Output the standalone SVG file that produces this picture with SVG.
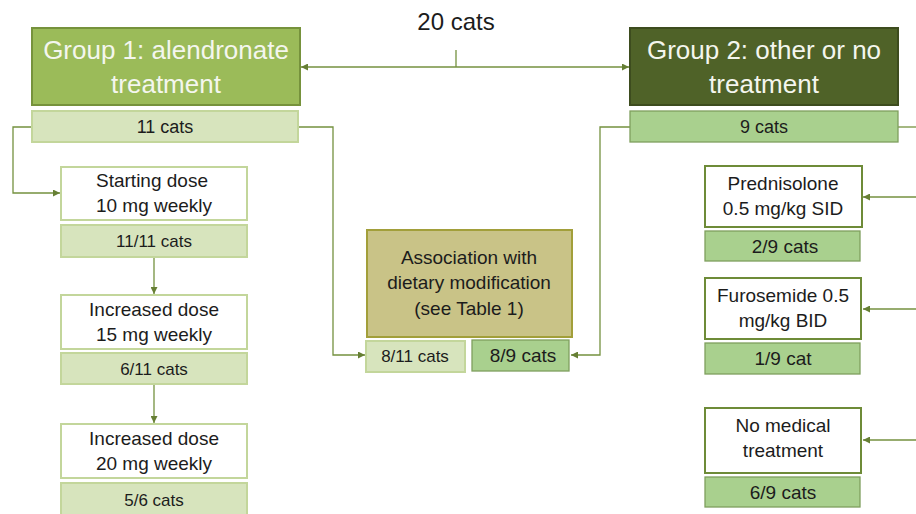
<svg xmlns="http://www.w3.org/2000/svg" width="916" height="514" viewBox="0 0 916 514">
<defs>
<marker id="arr" viewBox="0 0 10 10" refX="10" refY="5" markerWidth="7" markerHeight="7" markerUnits="userSpaceOnUse" orient="auto">
<path d="M0,0 L10,5 L0,10 z" fill="#667f34"/>
</marker>
<style>
text{font-family:"Liberation Sans",Arial,sans-serif;text-anchor:middle;fill:#1c1c1c}
.hdr{font-size:26px;fill:#f4f6ee}
.big{font-size:19px}
.mid{font-size:18px}
.sm{font-size:17px}
.c{fill:none;stroke:#74913f;stroke-width:1.3}
.c1{fill:#9bbb59;stroke:#76923c;stroke-width:2}
.c2{fill:#4f6228;stroke:#3d4c1e;stroke-width:2}
.lbar{fill:#d7e4bd;stroke:#c3d69b;stroke-width:2}
.dbar{fill:#a9d08e;stroke:#7f9f5e;stroke-width:1.3}
.lbox{fill:#fff;stroke:#c3d69b;stroke-width:2}
.rbox{fill:#fff;stroke:#6e8b38;stroke-width:2}
.assoc{fill:#c9c387;stroke:#a29f3a;stroke-width:2}
</style>
</defs>
<rect width="916" height="514" fill="#fff"/>
<g id="title"><text x="456" y="30" style="font-size:24px">20 cats</text></g>

<g id="connectors">
<path class="c" d="M456,50 V67"/>
<path class="c" d="M456,67 H301" marker-end="url(#arr)"/>
<path class="c" d="M456,67 H629" marker-end="url(#arr)"/>
<path class="c" d="M32,127 H13 V193 H60" marker-end="url(#arr)"/>
<path class="c" d="M298,127 H333 V355 H365" marker-end="url(#arr)"/>
<path class="c" d="M630,127 H600 V355 H571" marker-end="url(#arr)"/>
<path class="c" d="M898,127 H916"/>
<path class="c" d="M154,257 V294" marker-end="url(#arr)"/>
<path class="c" d="M154,385 V423" marker-end="url(#arr)"/>
<path class="c" d="M916,197 H863" marker-end="url(#arr)"/>
<path class="c" d="M916,309 H863" marker-end="url(#arr)"/>
<path class="c" d="M916,440 H863" marker-end="url(#arr)"/>
</g>

<g id="group1">
<rect class="c1" x="32" y="28" width="268" height="77"/>
<text class="hdr" x="166" y="59">Group 1: alendronate</text>
<text class="hdr" x="166" y="93">treatment</text>
</g>
<g id="g1count">
<rect class="lbar" x="32" y="111" width="266" height="31"/>
<text class="mid" x="165" y="133">11 cats</text>
</g>

<g id="group2">
<rect class="c2" x="630" y="28" width="268" height="77"/>
<text class="hdr" x="764" y="59">Group 2: other or no</text>
<text class="hdr" x="764" y="93">treatment</text>
</g>
<g id="g2count">
<rect class="dbar" x="630" y="111" width="268" height="31"/>
<text class="mid" x="764" y="133">9 cats</text>
</g>

<g id="dose10">
<rect class="lbox" x="61" y="167" width="186" height="53"/>
<text class="big" x="152" y="187">Starting dose</text>
<text class="big" x="154" y="212">10 mg weekly</text>
</g>
<g id="dose10count">
<rect class="lbar" x="61" y="225" width="186" height="32"/>
<text class="sm" x="154" y="247">11/11 cats</text>
</g>

<g id="dose15">
<rect class="lbox" x="61" y="295" width="186" height="54"/>
<text class="big" x="154" y="316">Increased dose</text>
<text class="big" x="154" y="341">15 mg weekly</text>
</g>
<g id="dose15count">
<rect class="lbar" x="61" y="353" width="186" height="31"/>
<text class="sm" x="154" y="375">6/11 cats</text>
</g>

<g id="dose20">
<rect class="lbox" x="61" y="424" width="186" height="54"/>
<text class="big" x="154" y="445">Increased dose</text>
<text class="big" x="154" y="470">20 mg weekly</text>
</g>
<g id="dose20count">
<rect class="lbar" x="61" y="483" width="186" height="34"/>
<text class="sm" x="154" y="506">5/6 cats</text>
</g>

<g id="association">
<rect class="assoc" x="367" y="230" width="205" height="107"/>
<text class="big" x="469" y="264">Association with</text>
<text class="big" x="469" y="289">dietary modification</text>
<text class="big" x="469" y="315">(see Table 1)</text>
</g>
<g id="assoc1">
<rect class="lbar" x="366" y="341" width="99" height="31"/>
<text class="sm" x="415" y="362">8/11 cats</text>
</g>
<g id="assoc2">
<rect class="dbar" x="472" y="340" width="97" height="31"/>
<text class="big" x="523" y="362">8/9 cats</text>
</g>

<g id="prednisolone">
<rect class="rbox" x="705" y="166" width="157" height="61"/>
<text class="big" x="783" y="190">Prednisolone</text>
<text class="big" x="783" y="215">0.5 mg/kg SID</text>
</g>
<g id="prednisolonecount">
<rect class="dbar" x="705" y="231" width="155" height="30"/>
<text class="big" x="785" y="253">2/9 cats</text>
</g>

<g id="furosemide">
<rect class="rbox" x="705" y="278" width="156" height="61"/>
<text class="big" x="783" y="302">Furosemide 0.5</text>
<text class="big" x="783" y="327">mg/kg BID</text>
</g>
<g id="furosemidecount">
<rect class="dbar" x="705" y="343" width="155" height="31"/>
<text class="big" x="783" y="365">1/9 cat</text>
</g>

<g id="nomedical">
<rect class="rbox" x="705" y="408" width="156" height="65"/>
<text class="big" x="783" y="432">No medical</text>
<text class="big" x="783" y="457">treatment</text>
</g>
<g id="nomedicalcount">
<rect class="dbar" x="705" y="477" width="155" height="30"/>
<text class="big" x="783" y="499">6/9 cats</text>
</g>
</svg>
